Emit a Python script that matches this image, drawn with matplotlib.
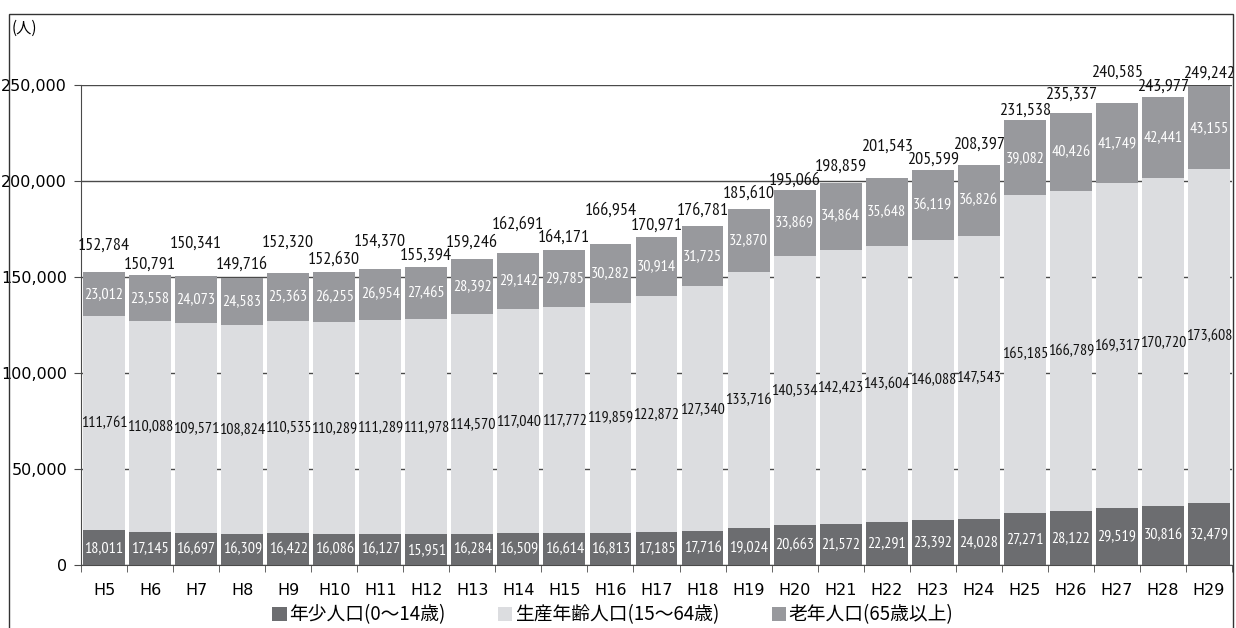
import numpy as np
import matplotlib
matplotlib.use("Agg")
import matplotlib.pyplot as plt
from matplotlib.patches import Rectangle

plt.rcParams["font.family"] = ["DejaVu Sans", "Noto Sans CJK JP"]

years = ["H5", "H6", "H7", "H8", "H9", "H10", "H11", "H12", "H13", "H14", "H15", "H16", "H17",
         "H18", "H19", "H20", "H21", "H22", "H23", "H24", "H25", "H26", "H27", "H28", "H29"]

young = [18011, 17145, 16697, 16309, 16422, 16086, 16127, 15951, 16284, 16509, 16614, 16813, 17185,
         17716, 19024, 20663, 21572, 22291, 23392, 24028, 27271, 28122, 29519, 30816, 32479]
working = [111761, 110088, 109571, 108824, 110535, 110289, 111289, 111978, 114570, 117040, 117772,
           119859, 122872, 127340, 133716, 140534, 142423, 143604, 146088, 147543, 165185, 166789,
           169317, 170720, 173608]
elderly = [23012, 23558, 24073, 24583, 25363, 26255, 26954, 27465, 28392, 29142, 29785, 30282,
           30914, 31725, 32870, 33869, 34864, 35648, 36119, 36826, 39082, 40426, 41749, 42441, 43155]
totals = [152784, 150791, 150341, 149716, 152320, 152630, 154370, 155394, 159246, 162691, 164171,
          166954, 170971, 176781, 185610, 195066, 198859, 201543, 205599, 208397, 231538, 235337,
          240585, 243977, 249242]

legend_labels = ["年少人口(0～14歳)", "生産年齢人口(15～64歳)", "老年人口(65歳以上)"]

# how far (px) each total label sits above its bar, as in the original layout
total_lift = [26, 11, 33, 13, 30, 12, 27, 11, 17, 28, 12, 34, 11, 15, 15, 10, 16, 31, 11, 20, 10, 18, 30, 10, 13]

c_young = "#6c6d70"
c_work = "#dcdde0"
c_old = "#98999d"
num_font = ["PT Sans Narrow", "DejaVu Sans"]

fig = plt.figure(figsize=(12.36, 6.28), dpi=100)
ax = fig.add_axes([81 / 1236, 63 / 628, 1151 / 1236, 480 / 628])

x = np.arange(len(years))
young = np.array(young)
working = np.array(working)
elderly = np.array(elderly)

b1 = ax.bar(x, young, width=0.91, color=c_young, zorder=3)
b2 = ax.bar(x, working, width=0.91, bottom=young, color=c_work, zorder=3)
b3 = ax.bar(x, elderly, width=0.91, bottom=young + working, color=c_old, zorder=3)

for i in range(len(x)):
    ax.text(x[i], young[i] / 2, f"{young[i]:,}", ha="center", va="center",
            color="white", fontsize=11.5, family=num_font, zorder=4)
    ax.text(x[i], young[i] + working[i] / 2, f"{working[i]:,}", ha="center", va="center",
            color="#111111", fontsize=11.5, family=num_font, zorder=4)
    ax.text(x[i], young[i] + working[i] + elderly[i] / 2, f"{elderly[i]:,}", ha="center",
            va="center", color="white", fontsize=11.5, family=num_font, zorder=4)
    ax.annotate(f"{totals[i]:,}", (x[i], totals[i]), xytext=(0, total_lift[i]),
                textcoords="offset pixels", ha="center", va="center", fontsize=13,
                family=num_font, color="#111111", annotation_clip=False, zorder=5)

ax.set_xlim(-0.5, len(x) - 0.5)
ax.set_ylim(0, 250000)
ax.set_yticks(np.arange(0, 250001, 50000))
ax.set_yticklabels([f"{v:,}" for v in range(0, 250001, 50000)], fontsize=11.5)
ax.yaxis.grid(True, color="#4a4a4a", linewidth=1, zorder=1)
ax.set_axisbelow(True)

ax.set_xticks(x)
ax.set_xticklabels(years, fontsize=11.5)
ax.set_xticks(np.arange(-0.5, len(x), 1), minor=True)
ax.tick_params(axis="x", which="major", length=0, pad=13)
ax.tick_params(axis="x", which="minor", length=5, color="#4a4a4a")
ax.tick_params(axis="y", length=5, color="#4a4a4a", pad=5)

for s in ["top", "right"]:
    ax.spines[s].set_visible(False)
ax.spines["left"].set_color("#4a4a4a")
ax.spines["bottom"].set_color("#4a4a4a")

fig.text(12 / 1236, 1 - 28 / 628, "(人)", fontsize=11, va="center", ha="left",
         family=["Noto Sans CJK JP", "DejaVu Sans"])

# outer frame
fig.patches.append(Rectangle((9 / 1236, -0.1), 1224 / 1236, 1.1 - 14 / 628, fill=False,
                             edgecolor="#333333", linewidth=1, transform=fig.transFigure))

leg = fig.legend([b1, b2, b3], legend_labels, loc="center", bbox_to_anchor=(613 / 1236, 13 / 628),
                 ncol=3, frameon=False, handlelength=0.75, handleheight=0.75, handletextpad=0.15,
                 columnspacing=2.8, borderpad=0, prop={"family": ["Noto Sans CJK JP"], "size": 13.5})

fig.savefig("out.png", dpi=100, facecolor="white")
